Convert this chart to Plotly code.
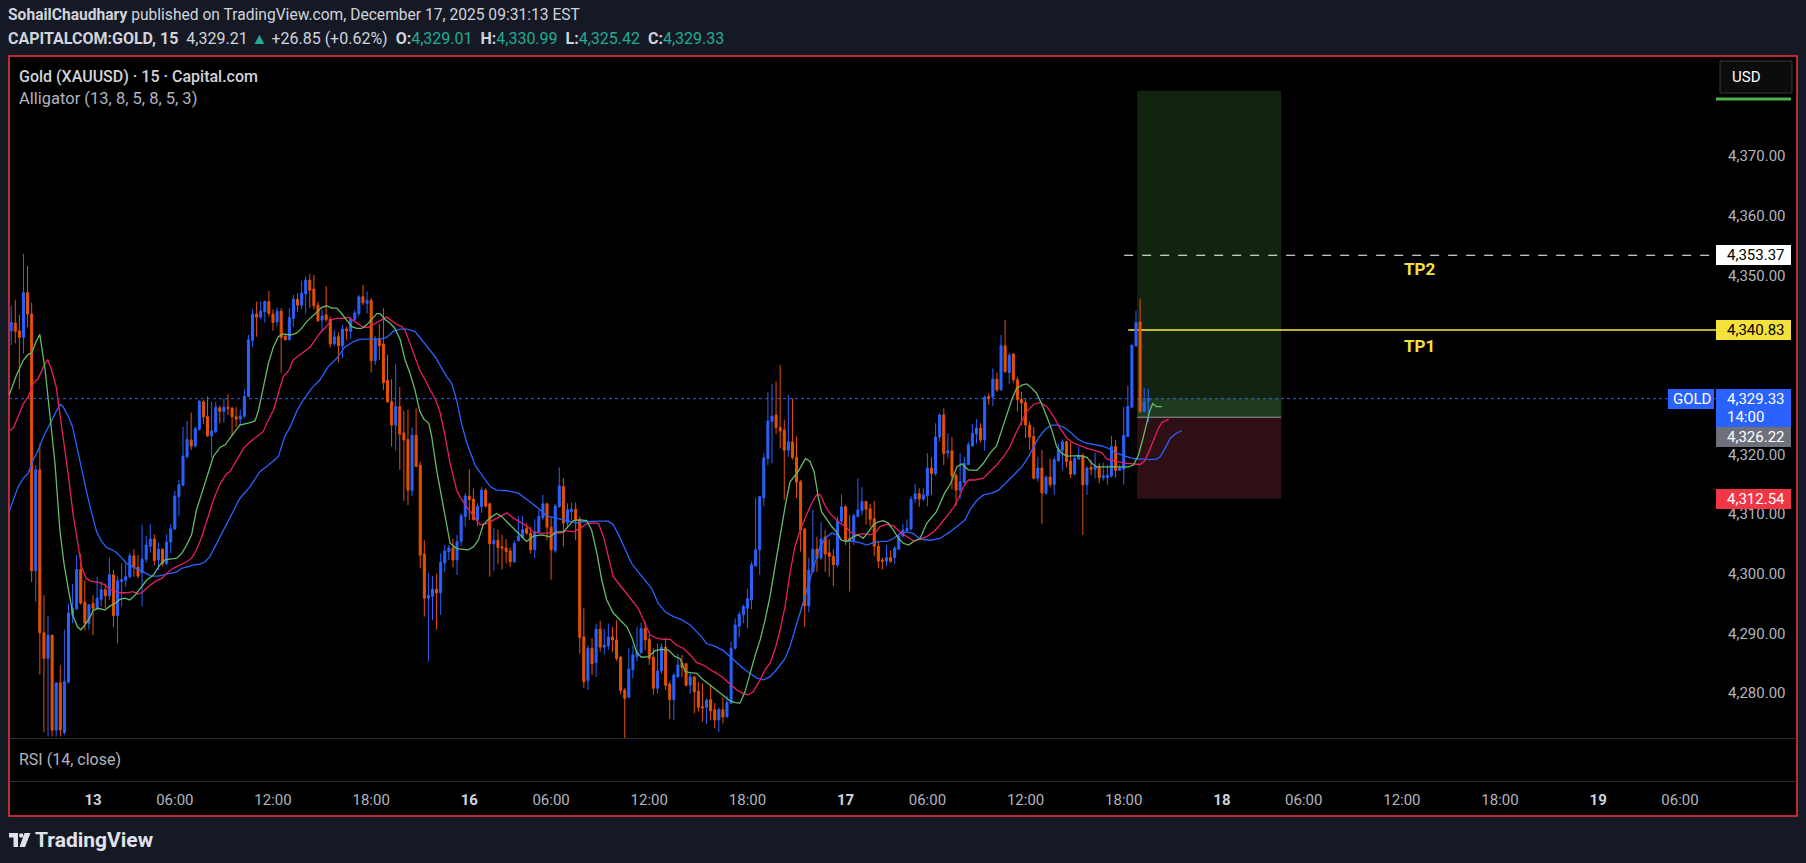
import plotly.graph_objects as go

W, H = 1806, 863
FONT = "Roboto"
BG = "#151924"
TXT = "#d1d4dc"
AX = "#b2b5be"
UP = "#2962ff"
DOWN = "#e65100"
JAW, TEETH, LIPS = "#2962ff", "#e91e63", "#66bb6a"
TEAL = "#22ab94"

# ---------------- data (15-minute bars, index 0 = first bar of day "13") ----------------
first_bar = -20
opens = [
4340.7, 4342.0, 4340.7, 4339.6, 4347.1, 4343.5, 4300.5, 4317.4, 4290.1, 4285.8,
4289.7, 4273.8, 4281.7, 4273.4, 4281.8, 4293.1, 4294.1, 4300.7, 4295.2, 4291.7,
4295.0, 4294.2, 4295.7, 4297.3, 4296.3, 4299.8, 4293.0, 4298.7, 4298.9, 4299.5,
4303.0, 4301.1, 4300.1, 4302.4, 4304.6, 4305.8, 4302.3, 4304.1, 4301.7, 4305.3,
4307.5, 4312.9, 4314.8, 4319.6, 4322.4, 4321.4, 4324.2, 4328.8, 4326.3, 4323.1,
4323.8, 4327.8, 4327.2, 4327.9, 4327.7, 4326.3, 4325.9, 4326.4, 4329.7, 4339.1,
4343.5, 4343.0, 4343.9, 4345.6, 4343.5, 4342.2, 4344.0, 4339.8, 4339.2, 4342.8,
4346.0, 4345.0, 4346.9, 4349.2, 4347.7, 4345.0, 4342.5, 4343.4, 4342.6, 4338.5,
4339.7, 4338.2, 4341.0, 4340.6, 4342.6, 4343.6, 4346.4, 4345.3, 4345.8, 4335.7,
4339.4, 4338.5, 4332.4, 4328.8, 4324.9, 4328.0, 4323.6, 4322.5, 4313.9, 4323.2,
4318.2, 4303.3, 4295.9, 4296.2, 4297.4, 4296.8, 4301.8, 4303.7, 4304.3, 4302.3,
4305.4, 4309.6, 4313.0, 4312.5, 4309.0, 4311.2, 4314.0, 4311.7, 4305.0, 4305.6,
4304.5, 4304.3, 4303.8, 4302.0, 4305.5, 4306.1, 4307.6, 4306.8, 4304.0, 4307.0,
4309.4, 4311.7, 4307.8, 4303.9, 4311.2, 4314.6, 4308.5, 4310.4, 4310.8, 4309.1,
4289.4, 4282.1, 4287.5, 4285.1, 4290.7, 4287.7, 4287.9, 4289.4, 4288.9, 4286.0,
4280.5, 4279.3, 4283.9, 4286.1, 4286.8, 4290.8, 4289.0, 4286.0, 4280.8, 4283.7,
4287.7, 4281.5, 4278.9, 4282.7, 4285.0, 4284.9, 4281.3, 4282.7, 4280.3, 4277.7,
4277.6, 4278.9, 4277.2, 4275.5, 4277.2, 4276.0, 4278.3, 4287.5, 4291.2, 4293.1,
4294.2, 4295.6, 4301.3, 4304.0, 4312.7, 4319.3, 4325.5, 4326.6, 4324.5, 4324.1,
4320.7, 4322.1, 4319.5, 4315.4, 4307.5, 4294.6, 4300.3, 4304.1, 4302.6, 4306.1,
4303.5, 4302.9, 4301.5, 4308.8, 4311.2, 4305.9, 4305.5, 4309.6, 4310.6, 4312.1,
4310.9, 4309.2, 4304.6, 4302.3, 4302.1, 4302.7, 4302.7, 4304.1, 4306.3, 4307.2,
4307.5, 4312.5, 4313.4, 4312.5, 4313.1, 4317.7, 4316.8, 4322.9, 4326.6, 4320.2,
4320.6, 4316.5, 4314.0, 4315.3, 4318.3, 4321.4, 4323.4, 4324.4, 4322.4, 4329.7,
4329.6, 4332.6, 4330.8, 4338.2, 4333.7, 4336.8, 4332.5, 4329.2, 4328.7, 4324.9,
4323.0, 4316.0, 4317.7, 4313.5, 4316.2, 4314.9, 4318.9, 4320.7, 4322.1, 4318.9,
4316.7, 4319.2, 4319.8, 4314.9, 4317.8, 4317.5, 4318.0, 4316.1, 4316.1, 4316.4,
4321.3, 4317.3, 4317.5, 4323.0, 4327.9, 4338.2, 4342.2, 4327.2, 4329.01]
highs = [
4344.9, 4345.9, 4343.4, 4353.6, 4351.6, 4345.4, 4318.2, 4321.8, 4296.4, 4292.9,
4289.7, 4281.7, 4284.7, 4290.6, 4295.0, 4298.3, 4303.1, 4303.4, 4298.9, 4294.8,
4296.4, 4299.5, 4298.7, 4298.4, 4302.7, 4300.6, 4299.5, 4301.7, 4301.7, 4303.5,
4304.1, 4303.1, 4308.2, 4306.3, 4308.3, 4306.6, 4305.2, 4304.2, 4306.6, 4308.3,
4313.9, 4315.7, 4324.6, 4325.6, 4327.0, 4324.6, 4329.1, 4329.1, 4329.7, 4328.8,
4328.8, 4328.2, 4329.4, 4330.1, 4328.0, 4327.9, 4327.5, 4330.9, 4340.0, 4344.3,
4345.6, 4345.6, 4345.8, 4347.4, 4344.3, 4344.6, 4344.5, 4340.0, 4344.5, 4346.7,
4347.0, 4349.1, 4349.8, 4350.2, 4350.1, 4345.6, 4344.2, 4348.2, 4343.1, 4340.8,
4340.4, 4341.7, 4341.4, 4343.1, 4344.2, 4346.7, 4348.4, 4347.3, 4346.2, 4339.8,
4341.9, 4344.5, 4336.7, 4332.6, 4335.1, 4331.3, 4327.3, 4327.5, 4324.5, 4327.7,
4318.8, 4305.6, 4300.1, 4299.6, 4300.0, 4303.4, 4304.8, 4304.8, 4305.9, 4306.5,
4310.1, 4313.5, 4317.5, 4314.3, 4311.8, 4314.5, 4314.3, 4311.9, 4307.6, 4307.4,
4306.5, 4305.8, 4304.4, 4305.6, 4309.7, 4309.7, 4308.4, 4307.9, 4309.1, 4310.7,
4313.2, 4311.9, 4309.4, 4311.7, 4317.8, 4316.0, 4311.8, 4311.9, 4311.9, 4309.6,
4294.2, 4288.0, 4289.2, 4291.6, 4292.1, 4290.7, 4291.6, 4291.1, 4292.2, 4286.2,
4280.8, 4287.5, 4288.0, 4291.1, 4291.8, 4292.0, 4289.7, 4287.5, 4288.3, 4288.3,
4289.3, 4281.9, 4283.3, 4286.6, 4286.4, 4285.0, 4283.4, 4282.9, 4281.9, 4281.6,
4279.1, 4281.3, 4278.3, 4277.6, 4279.3, 4279.5, 4288.6, 4292.5, 4293.6, 4294.8,
4297.5, 4302.0, 4312.7, 4313.0, 4320.2, 4330.4, 4331.8, 4332.2, 4335.0, 4325.8,
4330.0, 4329.4, 4323.0, 4315.7, 4307.6, 4302.7, 4310.7, 4306.2, 4308.7, 4307.3,
4305.8, 4304.1, 4309.6, 4313.3, 4311.5, 4309.8, 4310.1, 4316.0, 4314.5, 4312.2,
4311.7, 4312.2, 4305.4, 4302.7, 4304.8, 4303.9, 4304.6, 4306.6, 4308.3, 4309.1,
4313.0, 4315.0, 4314.3, 4314.3, 4320.2, 4319.5, 4325.2, 4326.9, 4327.7, 4323.5,
4322.9, 4316.8, 4320.2, 4319.6, 4322.1, 4325.1, 4325.9, 4325.2, 4329.9, 4330.2,
4334.4, 4333.7, 4340.0, 4342.5, 4337.0, 4337.0, 4333.0, 4330.5, 4329.4, 4325.5,
4324.6, 4319.6, 4320.7, 4316.5, 4319.3, 4319.6, 4321.8, 4322.5, 4322.3, 4322.1,
4319.7, 4321.3, 4320.2, 4318.0, 4319.1, 4320.3, 4318.5, 4318.6, 4318.2, 4323.1,
4322.4, 4318.2, 4328.0, 4331.5, 4338.3, 4344.1, 4346.0, 4331.1, 4330.99]
lows = [
4338.3, 4338.6, 4330.9, 4336.9, 4341.3, 4298.6, 4295.3, 4283.1, 4273.4, 4272.7,
4272.7, 4272.7, 4272.7, 4273.0, 4281.6, 4291.7, 4293.9, 4294.8, 4290.6, 4290.6,
4289.7, 4293.9, 4294.5, 4294.2, 4295.6, 4291.1, 4288.3, 4294.5, 4297.8, 4299.2,
4299.5, 4299.2, 4294.5, 4301.8, 4303.5, 4301.4, 4300.6, 4301.2, 4301.4, 4303.4,
4307.3, 4309.6, 4314.7, 4319.3, 4320.7, 4321.2, 4324.0, 4325.1, 4322.9, 4319.4,
4323.5, 4325.2, 4325.3, 4326.6, 4323.2, 4324.6, 4324.9, 4326.0, 4329.6, 4338.0,
4339.7, 4342.6, 4342.1, 4343.1, 4340.7, 4341.4, 4333.7, 4339.1, 4339.1, 4341.4,
4343.9, 4344.3, 4343.5, 4344.5, 4344.3, 4342.2, 4340.7, 4342.2, 4337.9, 4338.2,
4335.4, 4336.1, 4339.2, 4339.4, 4342.2, 4343.2, 4345.0, 4343.6, 4333.7, 4335.0,
4335.8, 4330.8, 4328.6, 4321.3, 4320.6, 4317.4, 4312.2, 4311.5, 4313.0, 4317.8,
4300.9, 4292.8, 4285.3, 4292.2, 4290.6, 4293.1, 4300.3, 4302.3, 4301.1, 4299.8,
4304.6, 4307.9, 4309.0, 4308.9, 4307.9, 4310.2, 4311.1, 4299.5, 4300.5, 4301.6,
4300.7, 4301.7, 4301.1, 4301.8, 4305.4, 4305.9, 4306.5, 4303.4, 4302.6, 4306.9,
4309.0, 4305.6, 4299.0, 4303.5, 4311.1, 4304.6, 4307.6, 4309.0, 4305.6, 4286.6,
4280.8, 4280.5, 4283.0, 4282.7, 4286.9, 4286.5, 4287.3, 4286.9, 4285.4, 4279.8,
4272.4, 4279.1, 4282.5, 4285.3, 4286.5, 4287.2, 4284.7, 4279.7, 4279.9, 4283.2,
4280.5, 4275.6, 4275.5, 4282.6, 4282.7, 4281.1, 4279.9, 4276.6, 4276.9, 4275.2,
4274.8, 4275.4, 4274.1, 4273.5, 4274.9, 4275.9, 4278.2, 4287.3, 4289.3, 4291.7,
4290.8, 4294.0, 4301.3, 4299.8, 4311.3, 4318.2, 4318.5, 4323.4, 4321.0, 4312.4,
4319.6, 4319.1, 4312.7, 4303.7, 4291.1, 4293.5, 4300.2, 4300.3, 4302.3, 4300.3,
4299.5, 4297.9, 4301.1, 4308.4, 4304.8, 4297.0, 4304.8, 4309.4, 4309.8, 4308.2,
4307.9, 4302.9, 4300.9, 4300.7, 4301.2, 4301.8, 4301.6, 4304.0, 4306.1, 4307.0,
4307.2, 4311.9, 4311.2, 4312.2, 4311.3, 4313.2, 4316.4, 4322.1, 4318.2, 4319.3,
4314.1, 4311.3, 4312.5, 4315.1, 4318.2, 4321.3, 4321.8, 4322.0, 4320.6, 4328.3,
4328.1, 4330.5, 4330.7, 4333.6, 4331.8, 4331.9, 4327.2, 4324.9, 4322.7, 4320.7,
4315.8, 4315.4, 4308.3, 4313.2, 4314.5, 4313.2, 4318.8, 4317.3, 4317.8, 4316.0,
4316.5, 4319.1, 4306.5, 4313.2, 4316.5, 4316.0, 4315.1, 4315.6, 4314.9, 4316.1,
4316.1, 4317.3, 4314.9, 4322.9, 4327.7, 4338.0, 4326.9, 4327.0, 4325.42]
closes = [
4342.1, 4340.6, 4339.6, 4347.1, 4343.5, 4300.5, 4317.4, 4290.1, 4285.8, 4289.7,
4273.8, 4281.7, 4273.8, 4281.9, 4293.4, 4294.2, 4300.7, 4295.1, 4291.7, 4294.8,
4294.2, 4295.9, 4297.3, 4296.3, 4299.8, 4293.0, 4298.8, 4299.0, 4299.5, 4303.0,
4301.1, 4299.6, 4302.4, 4304.8, 4305.8, 4302.2, 4304.1, 4301.7, 4305.3, 4307.5,
4313.0, 4314.9, 4319.7, 4322.5, 4321.4, 4324.3, 4328.9, 4326.3, 4323.1, 4323.9,
4327.9, 4327.2, 4327.9, 4327.7, 4326.3, 4325.9, 4326.4, 4329.7, 4339.2, 4343.5,
4343.0, 4344.0, 4345.6, 4343.6, 4342.1, 4344.0, 4339.6, 4339.2, 4342.9, 4346.0,
4345.0, 4347.0, 4349.2, 4347.5, 4344.9, 4342.4, 4343.2, 4342.6, 4338.5, 4339.7,
4338.2, 4341.0, 4340.7, 4342.6, 4343.7, 4346.4, 4345.4, 4345.8, 4335.7, 4339.4,
4338.2, 4332.0, 4328.8, 4324.9, 4328.0, 4323.4, 4322.4, 4314.0, 4323.2, 4318.0,
4303.1, 4295.9, 4296.4, 4297.4, 4296.8, 4301.9, 4303.8, 4304.3, 4302.3, 4305.4,
4309.7, 4313.0, 4312.4, 4309.1, 4311.3, 4314.0, 4311.3, 4305.0, 4305.6, 4304.4,
4304.3, 4303.7, 4302.0, 4305.1, 4306.3, 4307.4, 4306.8, 4304.0, 4307.0, 4309.6,
4311.7, 4307.8, 4304.0, 4311.3, 4314.7, 4308.5, 4310.7, 4310.8, 4309.0, 4289.3,
4281.9, 4287.5, 4284.9, 4290.7, 4287.7, 4288.0, 4289.4, 4288.9, 4285.8, 4280.4,
4279.1, 4284.0, 4286.4, 4286.9, 4290.8, 4288.9, 4285.8, 4280.8, 4283.7, 4287.7,
4281.3, 4278.9, 4283.0, 4284.7, 4284.3, 4281.3, 4282.7, 4280.2, 4277.6, 4277.5,
4278.8, 4277.0, 4275.5, 4277.2, 4276.0, 4278.4, 4287.5, 4291.4, 4293.2, 4294.5,
4295.8, 4301.5, 4304.0, 4312.9, 4319.4, 4325.6, 4326.4, 4324.5, 4323.9, 4320.7,
4322.1, 4319.5, 4315.3, 4307.3, 4294.6, 4300.6, 4304.1, 4302.6, 4305.8, 4303.3,
4302.9, 4301.5, 4308.8, 4311.2, 4305.6, 4305.4, 4309.7, 4310.7, 4312.1, 4310.8,
4309.1, 4304.6, 4302.1, 4302.1, 4302.7, 4302.1, 4304.3, 4306.3, 4307.3, 4307.6,
4312.5, 4313.4, 4312.5, 4313.2, 4317.7, 4316.8, 4322.9, 4326.6, 4320.1, 4320.6,
4316.4, 4314.0, 4315.4, 4318.5, 4321.6, 4323.5, 4324.4, 4322.4, 4329.6, 4329.4,
4332.6, 4330.8, 4338.2, 4333.9, 4336.6, 4332.5, 4329.2, 4328.6, 4324.9, 4322.9,
4316.0, 4317.7, 4313.5, 4316.2, 4314.9, 4319.1, 4320.8, 4322.1, 4318.8, 4316.7,
4319.3, 4319.8, 4314.9, 4317.7, 4317.5, 4318.0, 4316.1, 4316.4, 4316.5, 4321.3,
4317.3, 4317.7, 4323.2, 4328.0, 4338.3, 4342.1, 4327.2, 4328.8, 4329.33]

# Alligator (13, 8, 5, 8, 5, 3) lines (bar position, price)
jaw_x = [-20.5, -19.5, -18.3, -17.0, -15.8, -14.6, -13.4, -12.1, -10.9, -9.7, -8.7, -8.1, -7.3, -6.0, -5.0,
         -4.0, -2.8, -1.5, -0.3, 0.9, 2.1, 3.3, 4.6, 5.8, 7.0, 8.2, 9.9, 11.5, 13.1, 14.3, 15.9, 17.6, 19.2,
         20.5, 21.7, 23.3, 25.0, 26.2, 27.4, 28.6, 29.8, 31.1, 32.7, 34.3, 35.9,
         38.4, 40.8, 42.9, 45.3, 46.9, 48.2, 49.8, 51.4, 53.5, 55.5, 57.5, 59.6, 61.6, 63.7, 65.3, 67.7, 70.2,
         71.8, 73.4, 75.1, 76.7, 78.7, 80.3, 81.9, 83.6, 84.8, 86.5, 87.7, 88.9, 90.1, 91.4,
         93.4, 95.1, 97.1, 98.7, 101.2, 104.0, 105.6, 107.3, 109.3, 110.9, 112.6, 114.6, 116.6, 118.3, 119.9,
         121.9, 123.9, 126.0, 127.2, 128.5, 130.1, 131.7, 133.3, 135.0, 136.6, 138.2, 139.9, 141.9, 143.9,
         146.0, 147.6,
         148.8, 150.0, 152.1, 154.1, 155.7, 157.4, 159.0, 160.6, 162.3, 163.9, 165.5, 167.1, 169.2, 170.4,
         171.6, 172.9, 174.1, 175.3, 176.5, 177.7, 179.4, 180.6, 181.8, 183.0, 184.3, 185.9, 187.5, 189.2,
         190.8, 192.4, 194.1, 195.7, 197.3, 199.0, 200.6,
         202.2, 204.7, 207.1, 209.5, 211.6, 213.2, 214.4, 216.1, 217.7, 219.7, 221.4, 223.0, 225.0, 227.1,
         228.7, 230.0, 231.1, 232.8, 234.4, 236.0, 237.7, 239.3, 240.9, 242.6, 244.6, 246.6, 248.3, 250.3,
         252.3, 254.4, 256.4, 258.4, 260.0, 260.9, 262.1, 263.4, 264.6, 266.2]
jaw_y = [4310.4, 4312.4, 4314.6, 4316.0, 4316.9, 4319.1, 4320.7, 4323.0, 4324.6, 4326.3, 4327.7, 4328.4,
         4328.0, 4326.3, 4324.6, 4321.3, 4317.4, 4313.5, 4310.1, 4307.0, 4305.4, 4304.4, 4304.0, 4303.5,
         4302.7, 4301.7, 4301.1, 4300.6, 4300.1, 4299.6, 4299.6, 4299.9, 4300.1, 4300.3, 4300.9, 4301.2,
         4301.5, 4301.6, 4302.0, 4302.9, 4304.5, 4306.2, 4308.4, 4310.7, 4312.6,
         4314.6, 4317.1, 4318.2, 4319.6, 4323.0, 4324.6, 4327.2, 4329.1, 4331.1, 4332.5, 4334.7, 4336.1,
         4338.0, 4338.9, 4339.3, 4339.3, 4339.3, 4339.6, 4340.6, 4341.0, 4341.0, 4340.6, 4339.2, 4337.8,
         4336.4, 4335.0, 4333.0, 4331.9, 4329.1, 4325.2, 4321.9,
         4318.2, 4316.5, 4314.6, 4314.0, 4313.9, 4313.5, 4312.6, 4311.8, 4310.7, 4309.7, 4309.4, 4309.1,
         4308.7, 4308.5, 4308.7, 4308.8, 4308.8, 4308.8, 4308.2, 4306.5, 4304.0, 4301.7, 4300.3, 4298.9,
         4297.5, 4295.0, 4293.6, 4292.8, 4292.3, 4291.4, 4290.3,
         4289.4, 4288.3, 4287.8, 4287.1, 4286.1, 4285.0, 4284.1, 4283.3, 4282.5, 4282.2, 4282.7, 4283.9,
         4285.8, 4287.8, 4290.6, 4293.4, 4296.1, 4299.2, 4301.7, 4304.5, 4306.2, 4306.8, 4306.5, 4305.6,
         4305.4, 4305.4, 4305.2, 4304.8, 4305.2, 4305.4, 4305.4, 4305.9, 4306.7, 4307.0, 4306.7,
         4305.8, 4305.6, 4305.9, 4307.0, 4308.2, 4309.0, 4310.7, 4312.3, 4313.2, 4313.5, 4314.0, 4315.1,
         4316.4, 4317.9, 4319.6, 4321.3, 4322.7, 4324.2, 4324.9, 4324.9, 4324.4, 4323.5, 4322.5, 4321.9,
         4321.7, 4321.4, 4321.0, 4320.2, 4319.7, 4319.3, 4319.2, 4319.1, 4319.2, 4319.6, 4321.0, 4322.7,
         4323.4, 4324.0]
teeth_x = [-20.5, -19.5, -18.3, -17.0, -15.8, -14.6, -13.4, -12.1, -11.1, -10.1, -9.0, -8.1, -7.1, -6.0,
           -4.8, -3.8, -2.8, -1.7, -0.3, 1.7, 2.9, 4.2, 5.4, 6.6, 8.2, 9.8, 11.1, 12.3, 13.5, 15.2, 16.8,
           18.4, 19.6, 21.3, 22.9, 24.1, 25.3, 26.6, 27.8, 29.4, 31.1, 32.7,
           33.5, 35.1, 36.8, 38.4, 40.0, 41.6, 42.9, 44.1, 45.3, 46.5, 47.9, 48.9, 50.2, 51.8, 53.1, 54.3,
           55.5, 57.1, 58.4, 59.6, 61.2, 62.4, 63.7, 64.9, 66.1, 67.3, 68.5, 70.2, 71.8, 73.0, 74.2, 75.5,
           76.3, 77.5, 78.7, 79.9, 81.2, 82.4, 83.6, 84.8, 86.1, 87.3, 88.9,
           89.7, 91.4, 93.0, 94.6, 96.3, 97.9, 99.5, 101.2, 102.8, 104.4, 106.0, 107.7, 109.3, 110.9, 112.6,
           114.2, 115.8, 117.4, 119.1, 120.7, 122.3, 123.6, 124.8, 126.0, 127.2, 128.8, 130.5, 132.1, 133.3,
           134.6, 136.2, 137.8, 139.4, 141.1, 142.7, 144.3, 146.0, 147.6,
           149.2, 150.9, 152.5, 154.1, 155.7, 157.4, 159.0, 160.2, 161.4, 163.1, 164.3, 165.5, 166.7, 168.0,
           169.2, 170.4, 171.6, 172.9, 174.1, 175.7, 176.9, 177.9, 178.9, 180.2, 181.4, 182.7, 183.9, 185.1,
           186.7, 188.3, 190.0, 191.2, 192.4, 194.1, 195.7, 197.3, 199.0, 200.6,
           202.2, 203.8, 205.5, 207.1, 208.7, 210.3, 211.6, 212.8, 214.0, 215.6, 217.7, 219.3, 220.9, 222.6,
           224.2, 225.8, 227.1, 228.3, 230.0, 231.6, 233.2, 234.9, 236.4, 238.1, 239.7, 241.3, 243.0, 244.6,
           246.6, 247.9, 249.5, 251.1, 252.8, 254.4, 256.0, 257.0, 258.0, 259.3, 260.5, 261.3, 262.5, 263.0]
teeth_y = [4323.9, 4324.4, 4326.3, 4328.5, 4329.7, 4331.9, 4332.7, 4334.7, 4335.9, 4334.1, 4331.3, 4327.2,
           4321.8, 4316.3, 4309.6, 4305.4, 4301.2, 4299.2, 4298.7, 4298.5, 4298.1, 4297.3, 4297.0, 4296.8,
           4296.8, 4297.0, 4296.6, 4297.0, 4297.8, 4298.7, 4299.2, 4300.3, 4300.9, 4301.5, 4302.0, 4302.6,
           4304.0, 4306.2, 4308.7, 4312.3, 4315.1, 4316.8,
           4317.1, 4319.1, 4321.0, 4322.1, 4323.0, 4323.8, 4325.8, 4327.4, 4330.2, 4333.0, 4334.1, 4335.8,
           4336.5, 4337.4, 4338.0, 4339.2, 4340.3, 4341.5, 4342.6, 4342.8, 4342.8, 4343.0, 4342.4, 4341.8,
           4341.3, 4341.3, 4341.7, 4342.4, 4343.0, 4342.4, 4341.8, 4341.4, 4340.8, 4338.6, 4336.4, 4334.1,
           4332.5, 4330.8, 4329.4, 4327.2, 4323.0, 4318.5, 4314.0,
           4312.9, 4311.2, 4309.6, 4308.2, 4308.4, 4309.0, 4309.7, 4310.2, 4309.3, 4308.7, 4308.0, 4307.0,
           4306.8, 4306.8, 4306.8, 4306.8, 4307.2, 4307.0, 4307.6, 4308.4, 4308.5, 4308.4, 4306.2, 4302.9,
           4299.5, 4298.1, 4296.7, 4295.3, 4294.2, 4292.2, 4289.7, 4289.2, 4289.0, 4289.0, 4288.0, 4287.5,
           4286.4, 4285.1,
           4284.7, 4283.9, 4283.3, 4282.5, 4281.5, 4280.5, 4279.9, 4279.7, 4280.2, 4282.2, 4283.9, 4285.0,
           4287.2, 4290.6, 4294.5, 4300.1, 4304.5, 4307.3, 4309.3, 4311.8, 4313.2, 4313.2, 4311.5, 4310.1,
           4309.3, 4308.4, 4308.0, 4307.0, 4306.5, 4306.7, 4306.5, 4306.8, 4307.9, 4308.3, 4308.0, 4307.0,
           4306.2, 4305.5,
           4305.8, 4306.2, 4307.0, 4308.2, 4309.6, 4311.0, 4312.6, 4314.6, 4315.7, 4315.7, 4316.0, 4317.1,
           4318.2, 4319.6, 4321.3, 4323.8, 4325.5, 4327.2, 4328.4, 4328.7, 4328.0, 4326.3, 4324.4, 4322.7,
           4321.9, 4321.4, 4321.0, 4320.7, 4320.3, 4319.2, 4318.9, 4318.7, 4318.5, 4318.4, 4318.3, 4318.8,
           4320.2, 4322.4, 4324.4, 4325.3, 4325.7, 4325.9]
lips_x = [-20.5, -18.7, -17.0, -15.8, -15.0, -13.9, -13.0, -11.7, -10.5, -9.3, -8.1, -7.1, -6.0, -4.8, -3.8,
          -3.0, -2.0, -0.9, 0.1, 1.3, 2.9, 4.2, 5.4, 6.6, 7.8, 9.0, 10.3, 11.5, 13.1, 14.8, 16.4, 17.6, 19.2,
          20.5, 21.7, 22.9, 24.1, 25.3, 26.6, 27.8, 29.4, 31.1, 32.3,
          33.5, 35.9, 38.4, 39.6, 40.4, 41.6, 42.9, 44.1, 45.3, 46.5, 48.2, 49.8, 51.0, 52.2, 53.5, 54.7,
          55.9, 57.1, 58.4, 59.6, 60.8, 62.0, 63.3, 64.5, 65.7, 66.9, 68.1, 69.4, 70.2, 71.4, 72.6, 73.8,
          75.1, 76.3, 77.5, 78.7, 79.9, 80.9, 82.1, 82.8, 84.0, 85.3, 86.5, 87.3, 88.9,
          91.8, 93.0, 94.2, 95.4, 97.1, 98.7, 99.9, 101.6, 103.2, 104.8, 106.0, 107.7, 109.7, 111.7, 113.4,
          115.0, 116.2, 117.4, 119.1, 120.7, 121.9, 123.2, 124.4, 125.6, 127.2, 128.8, 130.5, 131.7, 132.9,
          134.1, 135.8, 137.4, 139.0, 140.7, 142.3, 143.5, 144.8, 146.0,
          147.6, 149.2, 150.9, 152.5, 154.1, 155.7, 157.0, 158.2, 159.4, 160.6, 161.8, 163.1, 164.3, 165.5,
          166.7, 168.0, 169.2, 170.4, 171.4, 172.4, 173.3, 174.2, 175.3, 176.3, 177.3, 178.1, 179.4, 180.6,
          181.8, 183.0, 184.3, 185.9, 187.1, 188.3, 189.6, 190.8, 192.0, 193.2, 194.4, 195.7, 196.9, 198.1,
          199.4, 200.6,
          202.2, 203.8, 206.2, 208.2, 209.7, 211.2, 212.4, 214.0, 216.1, 217.7, 219.3, 220.9, 222.2, 223.4,
          224.6, 225.8, 227.1, 228.3, 229.5, 230.7, 231.9, 233.2, 234.4, 235.6, 236.8, 238.1, 239.7, 241.3,
          243.0, 244.2, 245.4, 247.0, 248.7, 250.3, 251.9, 253.1, 254.4, 255.6, 256.6, 257.6, 258.4, 259.1,
          260.0, 261.3]
lips_y = [4329.9, 4333.3, 4335.8, 4336.8, 4337.0, 4338.9, 4340.1, 4334.1, 4326.3, 4318.5, 4307.3, 4301.7,
          4297.3, 4292.8, 4291.1, 4290.6, 4291.4, 4292.5, 4293.9, 4294.2, 4293.9, 4294.6, 4295.0, 4295.7,
          4295.9, 4295.6, 4296.4, 4297.5, 4298.9, 4299.8, 4301.5, 4302.3, 4302.4, 4302.6, 4303.4, 4304.8,
          4306.5, 4310.7, 4313.5, 4316.3, 4319.6, 4321.2, 4321.6,
          4322.7, 4324.9, 4325.3, 4325.6, 4327.2, 4331.3, 4335.3, 4338.0, 4339.7, 4340.2, 4340.0, 4340.3,
          4341.1, 4342.2, 4343.0, 4343.9, 4344.6, 4344.9, 4344.5, 4344.5, 4343.6, 4342.5, 4341.4, 4341.1,
          4341.1, 4341.7, 4342.6, 4343.6, 4343.6, 4342.6, 4342.0, 4341.1, 4339.2, 4335.8, 4333.6, 4330.8,
          4327.2, 4325.9, 4325.2, 4323.0, 4317.4, 4312.3, 4307.9, 4305.1, 4304.2,
          4304.0, 4304.5, 4305.6, 4308.2, 4309.4, 4310.1, 4309.6, 4308.4, 4307.3, 4306.2, 4305.4, 4306.3,
          4306.5, 4306.2, 4307.0, 4307.0, 4307.9, 4308.9, 4309.0, 4308.9, 4307.3, 4303.4, 4298.9, 4295.6,
          4293.4, 4292.3, 4291.1, 4289.4, 4286.8, 4286.0, 4286.1, 4287.1, 4287.3, 4287.2, 4286.1, 4285.8,
          4283.6, 4283.4,
          4283.3, 4282.2, 4281.3, 4280.5, 4279.7, 4278.7, 4278.4, 4278.3, 4280.2, 4283.3, 4286.1, 4288.9,
          4292.2, 4296.1, 4301.2, 4306.2, 4311.2, 4315.4, 4316.3, 4317.1, 4318.2, 4319.3, 4318.8, 4317.1,
          4312.9, 4310.4, 4309.1, 4307.9, 4307.0, 4305.6, 4305.4, 4306.2, 4306.5, 4305.9, 4307.0, 4308.2,
          4308.7, 4308.9, 4308.5, 4307.3, 4305.9, 4305.1, 4304.8, 4305.4,
          4305.9, 4308.4, 4310.4, 4313.5, 4315.1, 4317.9, 4318.4, 4317.4, 4317.3, 4318.5, 4320.2, 4321.4,
          4324.1, 4326.6, 4329.1, 4331.1, 4331.6, 4331.8, 4331.1, 4330.2, 4328.5, 4326.3, 4324.1, 4321.3,
          4320.2, 4319.7, 4319.7, 4319.8, 4319.5, 4318.5, 4317.9, 4317.9, 4317.8, 4317.8, 4317.9, 4317.9,
          4318.2, 4319.9, 4322.4, 4325.5, 4327.4, 4328.5, 4328.0, 4328.0]

# axis ticks (4,330 and 4,340 are hidden behind the price labels in the reference)
price_ticks = [4280, 4290, 4300, 4310, 4320, 4350, 4360, 4370]
time_ticks = [0, 20, 44, 68, 92, 112, 136, 160, 184, 204, 228, 252, 276, 296, 320, 344, 368, 388]
time_labels = ["13", "06:00", "12:00", "18:00", "16", "06:00", "12:00", "18:00", "17",
               "06:00", "12:00", "18:00", "18", "06:00", "12:00", "18:00", "19", "06:00"]

# long position tool / levels
entry_price = 4326.22
stop_price = 4312.54
target_price = 4380.95
tp1_price = 4340.83
tp2_price = 4353.37
last_price = 4329.33
pos_start, pos_end = 255.3, 290.5

# ---------------- geometry ----------------
X0, X1 = 9, 1716          # plot area in px
XMIN, XMAX = -20.54, 396.8
PMIN, PMAX = 4272.46, 4386.76


def px(x):
    return x / W


def py(y):
    return 1 - y / H


n = len(opens)
assert len(highs) == n and len(lows) == n and len(closes) == n
assert len(jaw_x) == len(jaw_y) and len(teeth_x) == len(teeth_y) and len(lips_x) == len(lips_y)
bar_x = list(range(first_bar, first_bar + n))

fig = go.Figure()
fig.add_trace(go.Candlestick(
    x=bar_x, open=opens, high=highs, low=lows, close=closes,
    increasing=dict(line=dict(color=UP, width=1), fillcolor=UP),
    decreasing=dict(line=dict(color=DOWN, width=1), fillcolor=DOWN),
    whiskerwidth=0, hoverinfo="skip", showlegend=False, xaxis="x", yaxis="y"))
for xs, ys, col in [(jaw_x, jaw_y, JAW), (teeth_x, teeth_y, TEETH), (lips_x, lips_y, LIPS)]:
    fig.add_trace(go.Scatter(x=xs, y=ys, mode="lines", line=dict(color=col, width=1.3),
                             hoverinfo="skip", showlegend=False, xaxis="x", yaxis="y"))
fig.add_trace(go.Scatter(x=[0], y=[50], mode="markers", marker=dict(opacity=0),
                         hoverinfo="skip", showlegend=False, xaxis="x2", yaxis="y2"))

shapes = []
shapes.append(dict(type="rect", xref="paper", yref="paper", x0=px(9), x1=px(1797), y0=py(816), y1=py(56),
                   fillcolor="#000000", line=dict(color="#f23645", width=1.5), layer="below"))
shapes.append(dict(type="rect", xref="x", yref="y", x0=pos_start, x1=pos_end, y0=entry_price, y1=target_price,
                   fillcolor="#12240f", line=dict(width=0), layer="below"))
shapes.append(dict(type="rect", xref="x", yref="y", x0=pos_start, x1=pos_end, y0=entry_price, y1=last_price,
                   fillcolor="#1f3b1e", line=dict(width=0), layer="below"))
shapes.append(dict(type="rect", xref="x", yref="y", x0=pos_start, x1=pos_end, y0=stop_price, y1=entry_price,
                   fillcolor="#2e0f13", line=dict(width=0), layer="below"))
shapes.append(dict(type="line", xref="x", yref="y", x0=pos_start, x1=pos_end, y0=entry_price, y1=entry_price,
                   line=dict(color="#9598a1", width=1), layer="below"))
shapes.append(dict(type="line", xref="x", yref="y", x0=XMIN, x1=XMAX, y0=last_price, y1=last_price,
                   line=dict(color=UP, width=1, dash="dot"), layer="below"))
shapes.append(dict(type="line", xref="x", yref="y", x0=253.1, x1=XMAX, y0=tp1_price, y1=tp1_price,
                   line=dict(color="#ffeb3b", width=1.5), layer="below"))
shapes.append(dict(type="line", xref="x", yref="y", x0=252.1, x1=XMAX, y0=tp2_price, y1=tp2_price,
                   line=dict(color="#ffffff", width=1.2, dash="dash"), layer="below"))
for yy in (738.5, 781.5):
    shapes.append(dict(type="line", xref="paper", yref="paper", x0=px(10), x1=px(1796), y0=py(yy), y1=py(yy),
                       line=dict(color="#2a2e39", width=1), layer="above"))


def box(x0, x1, y0, y1, color, line=None):
    return dict(type="rect", xref="paper", yref="paper", x0=px(x0), x1=px(x1), y0=py(y1), y1=py(y0),
                fillcolor=color, line=dict(color=line or color, width=1 if line else 0), layer="above")


shapes.append(box(1716, 1791, 245, 265, "#ffffff"))
shapes.append(box(1716, 1791, 320, 340, "#f5e13c"))
shapes.append(box(1716, 1791, 389, 427, UP))
shapes.append(box(1716, 1791, 427, 447, "#6e717b"))
shapes.append(box(1716, 1791, 489, 509, "#f23645"))
shapes.append(box(1668, 1714, 389, 409, UP))
shapes.append(box(1720, 1792, 61, 93, "#0c0c0c", "#363a45"))
shapes.append(box(1716, 1791, 97.5, 100.5, "#4caf50"))

# TradingView logo (footer)
LOGO = "#e0e3eb"
shapes.append(box(9, 18, 833, 837.5, LOGO))
shapes.append(box(13.5, 18, 833, 847, LOGO))
shapes.append(dict(type="circle", xref="paper", yref="paper", x0=px(19), x1=px(23.4), y0=py(837.6), y1=py(833.2),
                   fillcolor=LOGO, line=dict(width=0), layer="above"))
pts = [(24.5, 833), (30.5, 833), (25, 847), (19.5, 847)]
path = "M " + " L ".join(f"{px(a):.5f},{py(b):.5f}" for a, b in pts) + " Z"
shapes.append(dict(type="path", xref="paper", yref="paper", path=path, fillcolor=LOGO,
                   line=dict(width=0), layer="above"))


def ann(x, y, text, size=15, color=TXT, xanchor="left", xref="paper", yref="paper", align="left", weight=None):
    if xref == "paper":
        x = px(x)
    if yref == "paper":
        y = py(y)
    f = dict(size=size, color=color, family=FONT)
    if weight:
        f["weight"] = weight
    return dict(x=x, y=y, xref=xref, yref=yref, text=text, showarrow=False, xanchor=xanchor,
                yanchor="middle", align=align, borderpad=0, font=f)


def teal(s):
    return f"<span style='color:{TEAL}'>{s}</span>"


annotations = [
    ann(7, 15, "<b>SohailChaudhary</b> published on TradingView.com, December 17, 2025 09:31:13 EST", size=15.6),
    ann(7, 38, "<b>CAPITALCOM:GOLD, 15</b>&nbsp;&nbsp;4,329.21 " + teal("▲") + " +26.85 (+0.62%)&nbsp; "
        + "<b>O:</b>" + teal("4,329.01") + "&nbsp; <b>H:</b>" + teal("4,330.99")
        + "&nbsp; <b>L:</b>" + teal("4,325.42") + "&nbsp; <b>C:</b>" + teal("4,329.33"), size=16),
    ann(18, 76, "Gold (XAUUSD) · 15 · Capital.com", size=16, color="#d1d4dc", weight=500),
    ann(18, 98, "Alligator (13, 8, 5, 8, 5, 3)", size=16.5, color=AX),
    ann(18, 759, "RSI (14, close)", size=16, color=AX),
    ann(34, 840, "<b>TradingView</b>", size=21, color=LOGO),
    ann(324.3, 4350.98, "<b>TP2</b>", size=17, color="#f5e13c", xanchor="center", xref="x", yref="y"),
    ann(324.3, 4338.24, "<b>TP1</b>", size=17, color="#f5e13c", xanchor="center", xref="x", yref="y"),
    ann(1726, 255, "4,353.37", color="#000000"),
    ann(1726, 330, "4,340.83", color="#000000"),
    ann(1726, 399, "4,329.33", color="#ffffff"),
    ann(1726, 417, "14:00", color="#ffffff"),
    ann(1726, 437, "4,326.22", color="#ffffff"),
    ann(1726, 499, "4,312.54", color="#ffffff"),
    ann(1672, 399, "GOLD", color="#ffffff"),
    ann(1731, 77, "USD", color="#ffffff"),
]

time_text = [f"<b><span style='color:#d1d4dc'>{t}</span></b>" if ":" not in t else t for t in time_labels]

fig.update_layout(
    width=W, height=H, margin=dict(l=0, r=0, t=0, b=0, pad=0),
    template="none", paper_bgcolor=BG, plot_bgcolor="#000000", showlegend=False,
    font=dict(family=FONT, color=TXT),
    xaxis=dict(domain=[px(X0), px(X1)], range=[XMIN, XMAX], anchor="y", showticklabels=False,
               showgrid=False, zeroline=False, showline=False, ticks="", fixedrange=True,
               rangeslider=dict(visible=False)),
    yaxis=dict(domain=[py(738), py(56)], range=[PMIN, PMAX], anchor="x", side="right",
               tickvals=price_ticks, tickformat=",.2f", ticks="outside", ticklen=8,
               tickcolor="rgba(0,0,0,0)", tickfont=dict(size=15, color=AX, family=FONT),
               showgrid=False, zeroline=False, showline=False, automargin=False, fixedrange=True),
    xaxis2=dict(domain=[px(X0), px(X1)], range=[XMIN, XMAX], anchor="y2", matches="x",
                tickvals=time_ticks, ticktext=time_text, ticks="outside", ticklen=5,
                tickcolor="rgba(0,0,0,0)", tickfont=dict(size=15, color=AX, family=FONT),
                showgrid=False, zeroline=False, showline=False, automargin=False),
    yaxis2=dict(domain=[py(781), py(738)], range=[0, 100], anchor="x2", showticklabels=False,
                showgrid=False, zeroline=False, showline=False, fixedrange=True),
    shapes=shapes, annotations=annotations,
)

fig.write_html("out.html", config={"displayModeBar": False},
               post_script="document.body.style.margin='0';document.body.style.background='" + BG + "';")
